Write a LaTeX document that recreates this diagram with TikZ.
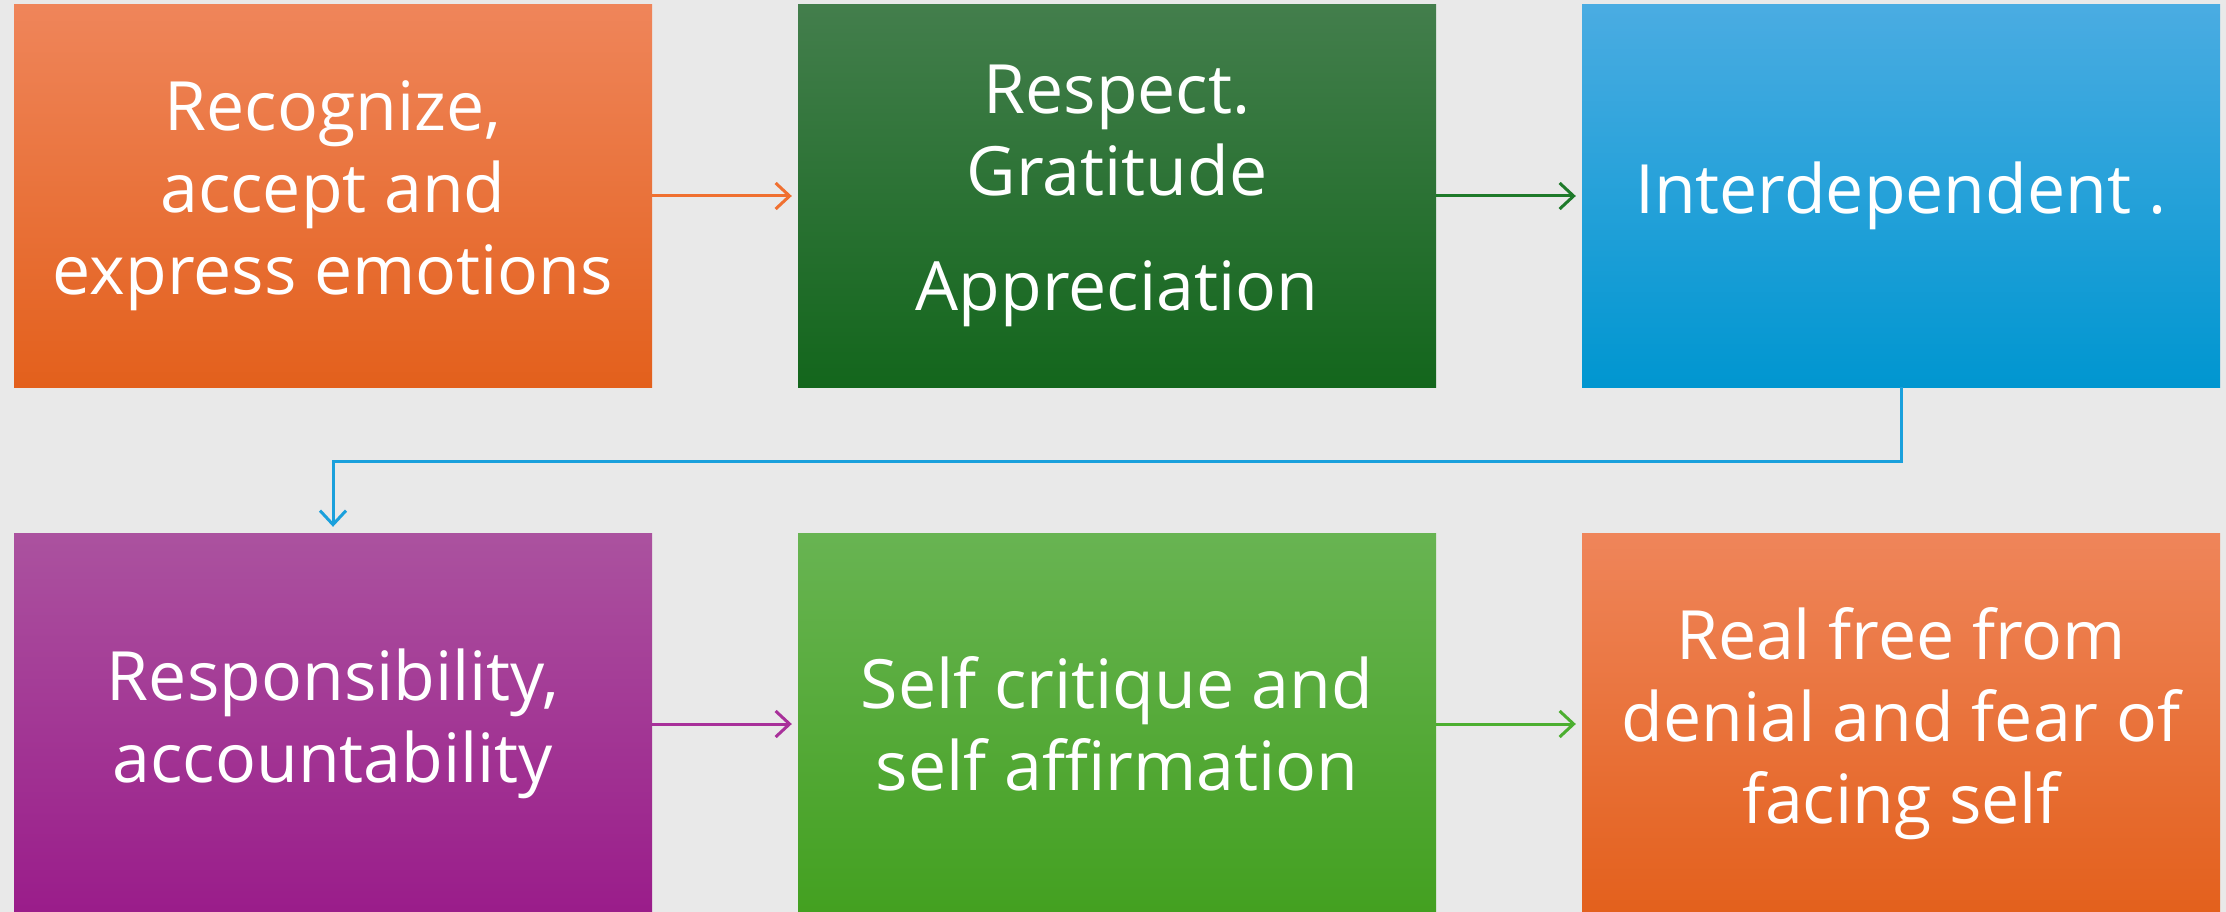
\documentclass[tikz,border=0pt]{standalone}
\usepackage{fontspec}
\setmainfont{Open Sans}
\usetikzlibrary{arrows.meta,calc}
\definecolor{bgc}{HTML}{E9E9E9}
\definecolor{oT}{HTML}{EF855A}\definecolor{oM}{HTML}{F0702F}\definecolor{oB}{HTML}{E3601C}
\definecolor{gT}{HTML}{437E4C}\definecolor{gM}{HTML}{1A7128}\definecolor{gB}{HTML}{13661C}
\definecolor{bT}{HTML}{4AACE2}\definecolor{bM}{HTML}{1EA3DE}\definecolor{bB}{HTML}{0096D0}
\definecolor{pT}{HTML}{AB529F}\definecolor{pM}{HTML}{A5249A}\definecolor{pB}{HTML}{9A1C8A}
\definecolor{lT}{HTML}{68B452}\definecolor{lM}{HTML}{4DAD2D}\definecolor{lB}{HTML}{43A020}
\definecolor{aO}{HTML}{F07030}\definecolor{aG}{HTML}{1E7A2A}\definecolor{aB}{HTML}{1AA0DC}
\definecolor{aP}{HTML}{A8309A}\definecolor{aL}{HTML}{4CAF30}
\tikzset{
  box/.style={rectangle, minimum width=638pt, minimum height=382pt, inner sep=0pt,
    text=white, align=center, font=\fontsize{68}{82}\selectfont},
  arr/.style={line width=3pt, -{Straight Barb[length=14pt,width=26pt,line width=3pt]}, shorten >=6pt},
}
\begin{document}
\begin{tikzpicture}[x=1pt,y=-1pt]
\useasboundingbox (0,0) rectangle (2226,912);
\fill[bgc] (0,0) rectangle (2226,912);
\clip (0,0) rectangle (2226,912);
\node[box, top color=oT, middle color=oM, bottom color=oB] (b1) at (333,196) {Recognize,\\accept and\\express emotions};
\node[box, top color=gT, middle color=gM, bottom color=gB] (b2) at (1117,196) {Respect.\\Gratitude\\[33pt]Appreciation};
\node[box, top color=bT, middle color=bM, bottom color=bB] (b3) at (1901,196) {Interdependent .};
\node[box, top color=pT, middle color=pM, bottom color=pB] (b4) at (333,724) {Responsibility,\\accountability};
\node[box, top color=lT, middle color=lM, bottom color=lB] (b5) at (1117,724) {Self critique and\\self affirmation};
\node[box, top color=oT, middle color=oM, bottom color=oB] (b6) at (1901,724) {Real free from\\denial and fear of\\facing self};
\draw[arr, aO] (b1.east) -- (b2.west);
\draw[arr, aG] (b2.east) -- (b3.west);
\draw[arr, aB] (b3.south) -- ++(0,74) -| (b4.north);
\draw[arr, aP] (b4.east) -- (b5.west);
\draw[arr, aL] (b5.east) -- (b6.west);
\end{tikzpicture}
\end{document}
